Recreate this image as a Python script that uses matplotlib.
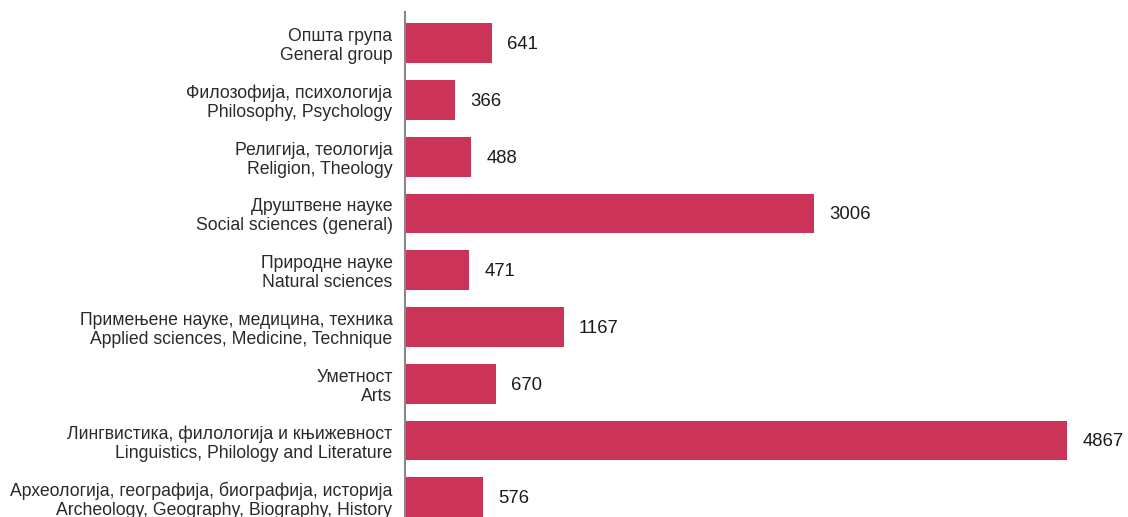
import matplotlib.pyplot as plt

labels_sr = ['Општа група', 'Филозофија, психологија', 'Религија, теологија',
             'Друштвене науке', 'Природне науке',
             'Примењене науке, медицина, техника', 'Уметност',
             'Лингвистика, филологија и књижевност',
             'Археологија, географија, биографија, историја']
labels_en = ['General group', 'Philosophy, Psychology', 'Religion, Theology',
             'Social sciences (general)', 'Natural sciences',
             'Applied sciences, Medicine, Technique', 'Arts',
             'Linguistics, Philology and Literature',
             'Archeology, Geography, Biography, History']
values = [641, 366, 488, 3006, 471, 1167, 670, 4867, 576]

plt.rcParams['font.family'] = ['Liberation Sans', 'DejaVu Sans']

fig = plt.figure(figsize=(11.28, 5.17), dpi=100)
ax = fig.add_axes([405 / 1128, 0, 1 - 405 / 1128, 1 - 12 / 517])

pos = list(range(len(values)))
ax.barh(pos, values, height=0.7, color='#CB3358')
for p, v in zip(pos, values):
    ax.annotate(str(v), (v, p), xytext=(11, -1), textcoords='offset points',
                va='center', ha='left', fontsize=13.3, color='#1a1a1a')

ax.set_yticks(pos)
ax.set_yticklabels([s + '\n' + e for s, e in zip(labels_sr, labels_en)],
                   fontsize=12.7, color='#2a2a2a', linespacing=1.15)
ax.tick_params(axis='y', length=0, pad=9)
ax.set_xticks([])
ax.set_xlim(0, 5316)
ax.set_ylim(8.35, -0.55)

for s in ['top', 'right', 'bottom']:
    ax.spines[s].set_visible(False)
ax.spines['left'].set_color('#888888')
ax.spines['left'].set_linewidth(1.5)

fig.savefig('out.png', dpi=100)
